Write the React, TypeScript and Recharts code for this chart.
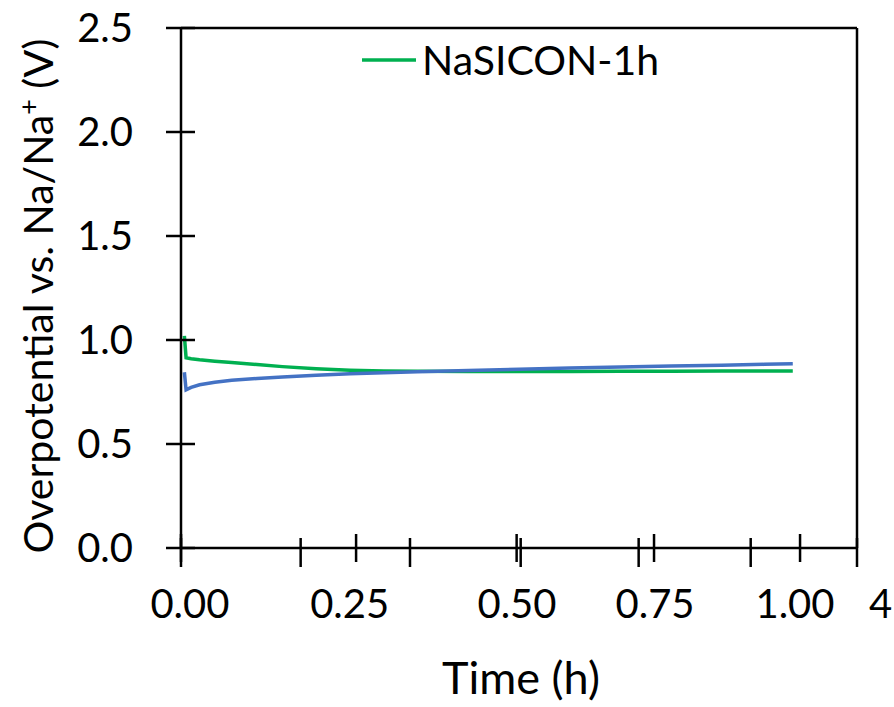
import React from 'react';
import { LineChart, Line, XAxis, YAxis, Legend, Label, ReferenceLine } from 'recharts';

// Underlying axis units (0–4) of the horizontal axis
const timeU = [0.02, 0.03, 0.06, 0.11, 0.2, 0.3, 0.45, 0.6, 0.8, 1.0, 1.2, 1.4, 1.7, 2.0, 2.3, 2.6, 2.9, 3.2, 3.45, 3.62];
const greenSeries = [1.02, 0.915, 0.91, 0.905, 0.898, 0.892, 0.882, 0.872, 0.862, 0.855, 0.851, 0.85, 0.849, 0.849, 0.849, 0.85, 0.85, 0.851, 0.851, 0.851];
const blueSeries = [0.845, 0.76, 0.772, 0.785, 0.797, 0.806, 0.815, 0.822, 0.831, 0.838, 0.843, 0.847, 0.853, 0.859, 0.865, 0.87, 0.875, 0.879, 0.883, 0.886];

const xCrossMarks = [0, 1.036, 1.986, 2.799, 3.663];
const xLowMarks = [0, 0.708, 1.355, 2.01, 2.708, 3.371, 4];
const xLabelPos = [0.053, 0.998, 1.988, 2.805, 3.633, 4];
const xLabels = ['0.00', '0.25', '0.50', '0.75', '1.00', '4'];
const yTicks = [0, 0.5, 1.0, 1.5, 2.0, 2.5];

const GREEN = '#00B050';
const BLUE = '#4472C4';
const FONT = "Lato, 'Liberation Sans', sans-serif";

const data = timeU.map((t, i) => ({ t, green: greenSeries[i], blue: blueSeries[i] }));
const xTicks = Array.from(new Set([...xCrossMarks, ...xLowMarks, ...xLabelPos])).sort((a, b) => a - b);

const XTick = (props: any) => {
  const { x, y, payload } = props;
  const v = payload.value;
  const li = xLabelPos.indexOf(v);
  return (
    <g>
      {xCrossMarks.includes(v) && <line x1={x} x2={x} y1={y - 14} y2={y + 14} stroke="#000" strokeWidth={2.5} />}
      {xLowMarks.includes(v) && <line x1={x} x2={x} y1={y - 10} y2={y + 19} stroke="#000" strokeWidth={2.5} />}
      {li >= 0 && (
        <text
          x={xLabels[li] === '4' ? x + 12 : x}
          y={y + 70}
          textAnchor={xLabels[li] === '4' ? 'start' : 'middle'}
          fontFamily={FONT}
          fontSize={40}
          fill="#000"
        >
          {xLabels[li]}
        </text>
      )}
    </g>
  );
};

const YTick = (props: any) => {
  const { x, y, payload } = props;
  return (
    <g>
      <line x1={x - 15} x2={x + 14} y1={y} y2={y} stroke="#000" strokeWidth={2.5} />
      <text x={x - 48} y={y} dy="0.36em" textAnchor="end" fontFamily={FONT} fontSize={40} fill="#000">
        {payload.value.toFixed(1)}
      </text>
    </g>
  );
};

const renderLegend = (props: any) => {
  const items = (props.payload || []).filter((p: any) => p.type !== 'none');
  return (
    <div style={{ display: 'flex', alignItems: 'center' }}>
      {items.map((p: any) => (
        <div key={p.value} style={{ display: 'flex', alignItems: 'center' }}>
          <svg width={54} height={10}>
            <line x1={0} x2={54} y1={5} y2={5} stroke={p.color} strokeWidth={3.5} />
          </svg>
          <span style={{ marginLeft: 6, fontFamily: FONT, fontSize: 41, color: '#000', lineHeight: '48px' }}>{p.value}</span>
        </div>
      ))}
    </div>
  );
};

const YTitle = () => (
  <text
    x={53}
    y={296}
    transform="rotate(-90, 53, 296)"
    textAnchor="middle"
    fontFamily={FONT}
    fontSize={41}
    fill="#000"
  >
    <tspan>Overpotential vs. Na/Na</tspan>
    <tspan dy={-15} fontSize={27}>+</tspan>
    <tspan dy={15}> (V)</tspan>
  </text>
);

const XTitle = () => (
  <text x={521} y={694} textAnchor="middle" fontFamily={FONT} fontSize={45} fill="#000">
    Time (h)
  </text>
);

export default function App() {
  return (
    <div style={{ position: 'absolute', left: 0, top: 0, background: '#fff' }}>
      <LineChart width={894} height={707} data={data} margin={{ top: 28, right: 37, left: 0, bottom: 0 }}>
        <XAxis
          dataKey="t"
          type="number"
          domain={[0, 4]}
          ticks={xTicks}
          interval={0}
          tickSize={0}
          tickMargin={0}
          tickLine={false}
          tick={<XTick />}
          height={159}
          axisLine={{ stroke: '#000', strokeWidth: 2.5 }}
        >
          <Label content={<XTitle />} />
        </XAxis>
        <YAxis
          type="number"
          domain={[0, 2.5]}
          ticks={yTicks}
          interval={0}
          tickSize={0}
          tickMargin={0}
          tickLine={false}
          tick={<YTick />}
          width={181}
          axisLine={{ stroke: '#000', strokeWidth: 2.5 }}
        >
          <Label content={<YTitle />} />
        </YAxis>
        <ReferenceLine y={2.5} stroke="#000" strokeWidth={2.5} />
        <ReferenceLine x={4} stroke="#000" strokeWidth={2.5} />
        <Legend
          layout="horizontal"
          verticalAlign="middle"
          align="center"
          content={renderLegend}
          wrapperStyle={{ top: 36, left: 362, width: 'auto', height: 'auto' }}
        />
        <Line dataKey="green" name="NaSICON-1h" stroke={GREEN} strokeWidth={3.5} dot={false} type="linear" isAnimationActive={false} />
        <Line dataKey="blue" name="blue" legendType="none" stroke={BLUE} strokeWidth={3.5} dot={false} type="linear" isAnimationActive={false} />
      </LineChart>
    </div>
  );
}
